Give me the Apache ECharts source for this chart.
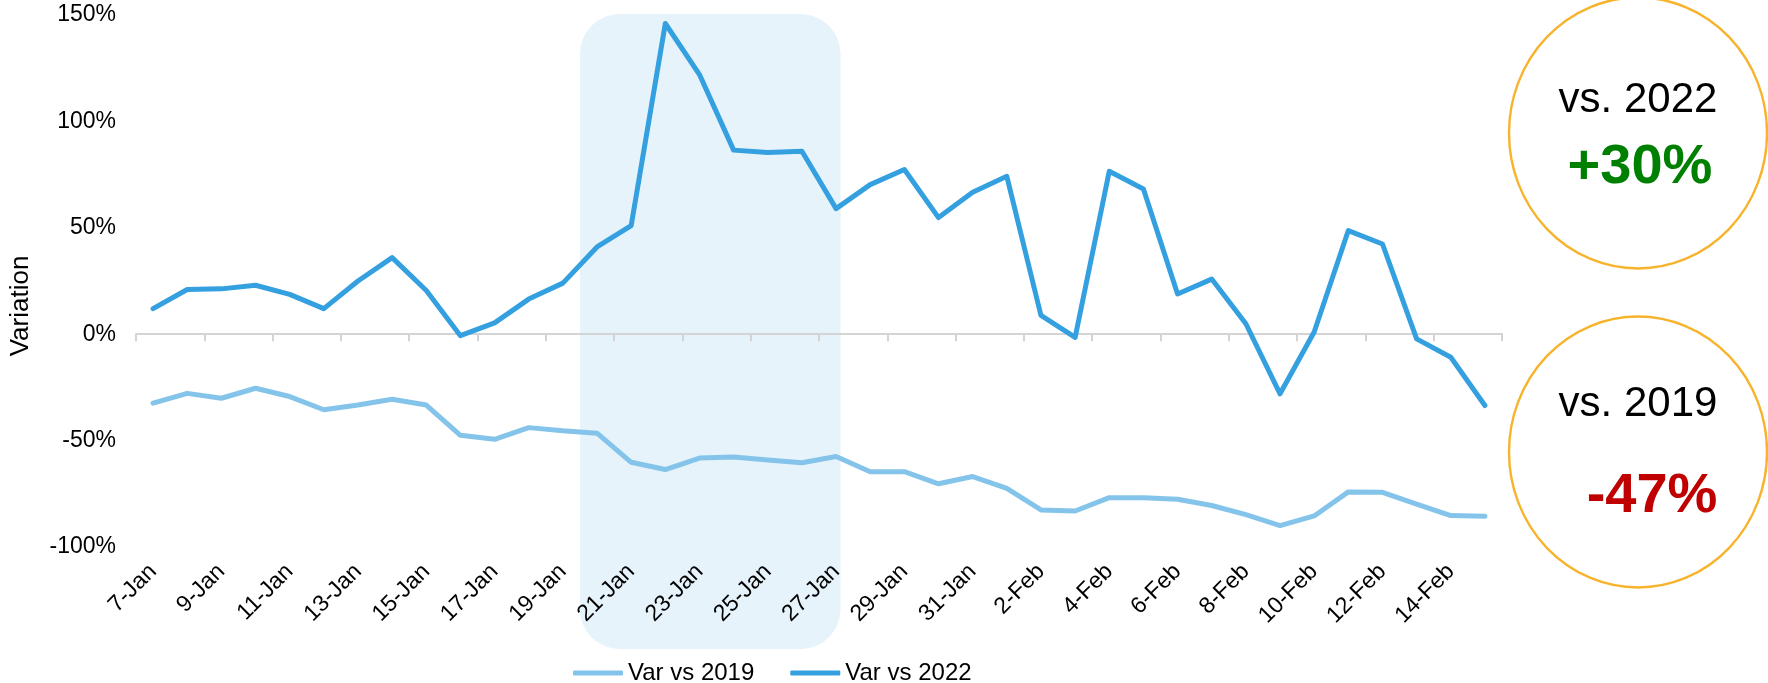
<!DOCTYPE html>
<html>
<head>
<meta charset="utf-8">
<script src="https://cdn.jsdelivr.net/npm/echarts@6/dist/echarts.min.js"></script>
<style>
  html, body { margin: 0; padding: 0; background: #fff; }
  #chart { width: 1768px; height: 683px; }
</style>
</head>
<body>
<div id="chart"></div>
<script>
// categories
const dates = [
  '7-Jan', '8-Jan', '9-Jan', '10-Jan', '11-Jan', '12-Jan', '13-Jan', '14-Jan', '15-Jan', '16-Jan',
  '17-Jan', '18-Jan', '19-Jan', '20-Jan', '21-Jan', '22-Jan', '23-Jan', '24-Jan', '25-Jan', '26-Jan',
  '27-Jan', '28-Jan', '29-Jan', '30-Jan', '31-Jan', '1-Feb', '2-Feb', '3-Feb', '4-Feb', '5-Feb',
  '6-Feb', '7-Feb', '8-Feb', '9-Feb', '10-Feb', '11-Feb', '12-Feb', '13-Feb', '14-Feb', '15-Feb'
];

// series values (%)
const var2019 = [
  -32.4, -27.8, -30.1, -25.4, -29.3, -35.5, -33.3, -30.6, -33.3, -47.5,
  -49.4, -43.9, -45.4, -46.5, -60.2, -63.6, -58.2, -57.7, -59.1, -60.4,
  -57.5, -64.6, -64.6, -70.3, -66.9, -72.5, -82.6, -83.1, -76.8, -76.8,
  -77.6, -80.5, -84.8, -90.0, -85.4, -74.1, -74.3, -79.8, -85.2, -85.6
];
const var2022 = [
  12.0, 21.0, 21.3, 23.0, 18.7, 12.0, 25.0, 36.0, 20.5, -0.7,
  5.3, 16.5, 24.0, 41.0, 51.0, 146.0, 122.0, 86.5, 85.4, 86.0,
  59.0, 70.3, 77.4, 54.8, 66.7, 74.2, 8.8, -1.5, 76.6, 68.2,
  18.9, 25.9, 4.9, -28.0, 1.0, 48.7, 42.4, -2.2, -10.8, -33.5
];

// highlighted period
const highlight = ['20-Jan', '27-Jan'];

// y ticks
const yMin = -100;
const yMax = 150;
const yStep = 50;

// summary bubbles
const summary = [
  { title: 'vs. 2022', value: '+30%', color: '#008000' },
  { title: 'vs. 2019', value: '-47%', color: '#C00000' }
];

const FONT = "'Liberation Sans', Arial, sans-serif";
const C2019 = '#85C4EA';
const C2022 = '#34A0E0';

const chart = echarts.init(document.getElementById('chart'));

// bubble layout: centre y, title y, value x / y
const bubbles = [
  { cy: 133, ty: 100, vx: 1640, vy: 168 },
  { cy: 452, ty: 404, vx: 1652, vy: 497 }
];
const graphics = [];
summary.forEach((s, i) => {
  const b = bubbles[i];
  graphics.push({
    type: 'circle',
    x: 1638, y: b.cy,
    scaleY: 1.05,
    shape: { cx: 0, cy: 0, r: 129 },
    style: { fill: 'none', stroke: '#F7B32B', lineWidth: 2.4 }
  });
  graphics.push({
    type: 'text',
    x: 1638, y: b.ty,
    style: { text: s.title, font: '42px ' + FONT, fill: '#000', textAlign: 'center', textVerticalAlign: 'middle' }
  });
  graphics.push({
    type: 'text',
    x: b.vx, y: b.vy,
    style: { text: s.value, font: 'bold 56px ' + FONT, fill: s.color, textAlign: 'center', textVerticalAlign: 'middle' }
  });
});

const option = {
  backgroundColor: '#fff',
  animation: false,
  textStyle: { fontFamily: FONT },
  grid: { left: 135, right: 266, top: 15, bottom: 136, containLabel: false },
  legend: {
    data: ['Var vs 2019', 'Var vs 2022'],
    icon: 'roundRect',
    left: 568,
    top: 656,
    itemWidth: 50,
    itemHeight: 5,
    itemGap: 36,
    textStyle: { fontSize: 24, color: '#000', fontFamily: FONT }
  },
  xAxis: [
    {
      type: 'category',
      data: dates,
      boundaryGap: true,
      axisLine: { show: true, onZero: true, lineStyle: { color: '#D4D4D4', width: 2 } },
      axisTick: { show: true, interval: 1, length: 7, lineStyle: { color: '#D4D4D4', width: 2 } },
      axisLabel: { show: false },
      splitLine: { show: false }
    },
    {
      type: 'category',
      data: dates,
      position: 'bottom',
      boundaryGap: true,
      axisLine: { show: false, onZero: false },
      axisTick: { show: false },
      axisLabel: { interval: 1, rotate: 45, margin: 21, fontSize: 23, color: '#000', fontFamily: FONT },
      splitLine: { show: false }
    }
  ],
  yAxis: {
    type: 'value',
    min: yMin,
    max: yMax,
    interval: yStep,
    name: 'Variation',
    nameLocation: 'middle',
    nameRotate: 90,
    nameGap: 102,
    nameTextStyle: { fontSize: 26, color: '#000', fontFamily: FONT, padding: [0, 50, 0, 0] },
    axisLine: { show: false },
    axisTick: { show: false },
    splitLine: { show: false },
    axisLabel: { margin: 20, fontSize: 23, color: '#000', fontFamily: FONT, formatter: v => v + '%' }
  },
  graphic: graphics,
  series: [
    {
      type: 'custom',
      name: 'highlight',
      xAxisIndex: 0,
      z: -1,
      silent: true,
      clip: false,
      data: [[dates.indexOf(highlight[0]), dates.indexOf(highlight[1])]],
      encode: { x: [0, 1] },
      renderItem: (params, api) => {
        const band = api.size([1, 0])[0];
        const x0 = api.coord([api.value(0), 0])[0] - band / 2;
        const x1 = api.coord([api.value(1), 0])[0] + band * 0.13;
        const yTop = api.coord([0, 150.5])[1];
        const yBot = api.coord([0, -148])[1];
        return {
          type: 'rect',
          shape: { x: x0, y: yTop, width: x1 - x0, height: yBot - yTop, r: 40 },
          style: { fill: '#E6F3FB' }
        };
      }
    },
    {
      name: 'Var vs 2019',
      type: 'line',
      data: var2019,
      symbol: 'none',
      lineStyle: { color: C2019, width: 5, cap: 'round', join: 'round' },
      itemStyle: { color: C2019 }
    },
    {
      name: 'Var vs 2022',
      type: 'line',
      data: var2022,
      symbol: 'none',
      lineStyle: { color: C2022, width: 5, cap: 'round', join: 'round' },
      itemStyle: { color: C2022 }
    }
  ]
};

chart.setOption(option);
</script>
</body>
</html>
